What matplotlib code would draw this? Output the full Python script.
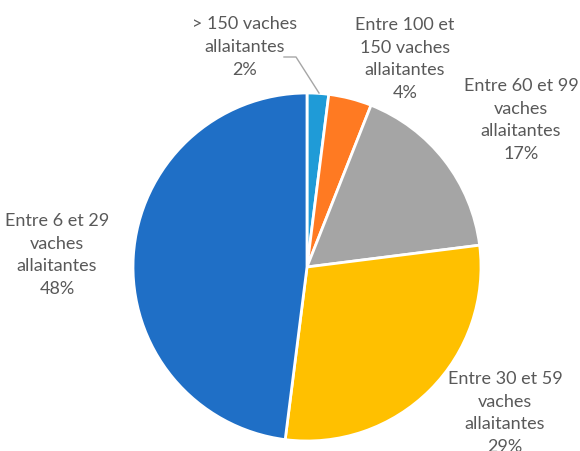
import matplotlib
matplotlib.use("Agg")
import matplotlib.pyplot as plt

# share of farms by herd size (suckler cows), clockwise from top
labels = ["> 150 vaches\nallaitantes\n2%",
          "Entre 100 et\n150 vaches\nallaitantes\n4%",
          "Entre 60 et 99\nvaches\nallaitantes\n17%",
          "Entre 30 et 59\nvaches\nallaitantes\n29%",
          "Entre 6 et 29\nvaches\nallaitantes\n48%"]
values = [2, 4, 17, 29, 48]
colors = ["#1F9BD7", "#FF7A22", "#A5A5A5", "#FFC000", "#1F6FC6"]

# label centres in pixel coords (x, y from top)
label_pos = [(245, 47), (405, 59), (521, 120), (505, 413), (57, 255)]

W, H = 580, 452
fig = plt.figure(figsize=(W / 100, H / 100), dpi=100)
ax = fig.add_axes([0, 0, 1, 1])
ax.set_xlim(0, W)
ax.set_ylim(0, H)
ax.set_aspect("equal")
ax.axis("off")

ax.pie(values, colors=colors, startangle=90, counterclock=False,
       center=(307, H - 268), radius=174,
       wedgeprops=dict(edgecolor="white", linewidth=2))
ax.set_xlim(0, W)
ax.set_ylim(0, H)

for lab, (x, y) in zip(labels, label_pos):
    ax.text(x, H - y, lab, ha="center", va="center", fontsize=13,
            family="Lato", color="#595959", linespacing=1.52)

# leader line for the smallest slice
ax.plot([284, 296, 319], [H - 58, H - 58, H - 94], color="#A6A6A6", lw=1)

fig.savefig("out.png", dpi=100)
